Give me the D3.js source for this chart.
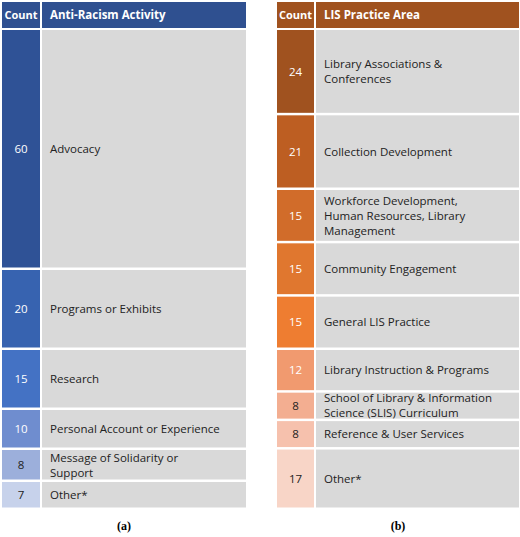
<!DOCTYPE html>
<html><head><meta charset="utf-8">
<script src="https://cdn.jsdelivr.net/npm/d3@7"></script>
<style>body{margin:0;background:#fff}</style>
</head><body>
<script>
const activityLabels = ["Advocacy", "Programs or Exhibits", "Research", "Personal Account or Experience", "Message of Solidarity or|Support", "Other*"];
const activityCounts = [60, 20, 15, 10, 8, 7];
const activityColors = ["#2f5296", "#3763b0", "#4472c4", "#6f8dcf", "#9cafdb", "#c7d2eb"];
const practiceLabels = ["Library Associations &|Conferences", "Collection Development", "Workforce Development,|Human Resources, Library|Management", "Community Engagement", "General LIS Practice", "Library Instruction & Programs", "School of Library & Information|Science (SLIS) Curriculum", "Reference & User Services", "Other*"];
const practiceCounts = [24, 21, 15, 15, 15, 12, 8, 8, 17];
const practiceColors = ["#a0521f", "#bd5e22", "#d16c2a", "#e0772f", "#ee7d31", "#f19a6f", "#f3ae91", "#f6c1ad", "#f8d5c7"];

const svg = d3.select("body").append("svg").attr("width", 520).attr("height", 537)
  .style("font-family", "'Open Sans', sans-serif");

function table({x0, x1, x2, header, headColor, labels, counts, colors, dark, caption}) {
  const g = svg.append("g");
  g.append("rect").attr("x", x0).attr("y", 2).attr("width", x1 - x0 - 2).attr("height", 26).attr("fill", headColor);
  g.append("rect").attr("x", x1).attr("y", 2).attr("width", x2 - x1).attr("height", 26).attr("fill", headColor);
  g.append("text").attr("x", (x0 + x1 - 2) / 2).attr("y", 19).attr("text-anchor", "middle")
    .attr("fill", "#fff").attr("font-size", 11).attr("font-weight", "bold").text("Count");
  g.append("text").attr("x", x1 + 8).attr("y", 19)
    .attr("fill", "#fff").attr("font-size", 11.5).attr("font-weight", "bold").text(header);
  const cum = d3.cumsum(counts);
  const y = d3.scaleLinear().domain([0, d3.sum(counts)]).range([30, 510]);
  const rows = g.selectAll(".row").data(counts).join("g");
  rows.append("rect").attr("x", x0).attr("y", (d, i) => y(cum[i] - d))
    .attr("width", x1 - x0 - 2).attr("height", d => y(d) - y(0) - 2.5).attr("fill", (d, i) => colors[i]);
  rows.append("rect").attr("x", x1).attr("y", (d, i) => y(cum[i] - d))
    .attr("width", x2 - x1).attr("height", d => y(d) - y(0) - 2.5).attr("fill", "#d9d9d9");
  rows.append("text").attr("x", (x0 + x1 - 2) / 2).attr("y", (d, i) => y(cum[i] - d / 2) + 3)
    .attr("text-anchor", "middle").attr("font-size", 11.5)
    .attr("fill", (d, i) => i < dark ? "#fff" : "#222").text(d => d);
  rows.each(function (d, i) {
    const lines = labels[i].split("|");
    const cy = y(cum[i] - d / 2) + 3 - (lines.length - 1) * 7.5;
    d3.select(this).append("text").attr("font-size", 11.5).attr("fill", "#222")
      .selectAll("tspan").data(lines).join("tspan")
      .attr("x", x1 + 8).attr("y", (l, j) => cy + j * 15).text(l => l);
  });
  svg.append("text").attr("x", (x0 + x2) / 2).attr("y", 530).attr("text-anchor", "middle")
    .attr("font-family", "'Liberation Serif', serif").attr("font-weight", "bold").attr("font-size", 12).text(caption);
}

table({x0: 2, x1: 42, x2: 246, header: "Anti-Racism Activity", headColor: "#2f5090",
  labels: activityLabels, counts: activityCounts, colors: activityColors, dark: 4, caption: "(a)"});
table({x0: 277, x1: 316, x2: 519, header: "LIS Practice Area", headColor: "#a0521f",
  labels: practiceLabels, counts: practiceCounts, colors: practiceColors, dark: 6, caption: "(b)"});
</script>
</body></html>
